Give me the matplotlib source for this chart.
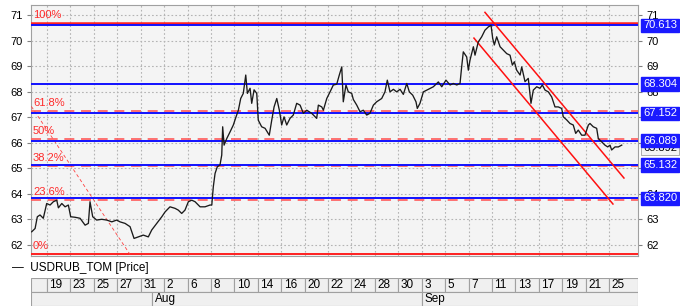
import matplotlib.pyplot as plt
from matplotlib.patches import Rectangle
import matplotlib.transforms as mtransforms

plt.rcParams['font.family'] = ['Liberation Sans', 'DejaVu Sans']

# time in trading days (0 = 19 Jul 2018), USDRUB_TOM price
t = [-1.31, -1.02, -0.83, -0.60, -0.32, -0.03, 0.26, 0.54, 0.83, 0.97, 1.26, 1.54, 1.82,
     2.02, 2.39, 2.82, 3.25, 3.53, 3.67, 3.90, 4.24, 4.67, 5.10, 5.53, 5.95, 6.23, 6.66,
     7.09, 7.43, 7.80, 8.22, 8.65, 8.94, 9.37, 9.80, 10.08, 10.50, 10.93, 11.21, 11.50,
     11.78, 12.07, 12.36, 12.64, 13.07, 13.49, 13.92, 14.07, 14.20, 14.35, 14.54, 14.77,
     14.92, 15.00, 15.12, 15.35, 15.63, 15.91, 16.14, 16.34, 16.54, 16.76, 16.97, 17.11,
     17.34, 17.48, 17.68, 17.91, 18.04, 18.33, 18.62, 18.98, 19.19, 19.39, 19.62, 19.84,
     20.04, 20.24, 20.47, 20.75, 21.03, 21.32, 21.61, 21.89, 22.18, 22.60, 23.03, 23.17,
     23.46, 23.60, 23.89, 24.17, 24.45, 24.74, 24.96, 25.17, 25.30, 25.53, 25.73, 26.02,
     26.16, 26.45, 26.73, 27.01, 27.30, 27.58, 27.87, 28.15, 28.58, 28.86, 29.06, 29.29,
     29.58, 29.86, 30.15, 30.43, 30.72, 30.94, 31.23, 31.51, 31.62, 31.85, 32.14, 32.56,
     32.99, 33.42, 33.71, 34.07, 34.42, 34.70, 34.99, 35.27, 35.41, 35.55, 35.84, 35.98,
     36.12, 36.41, 36.55, 36.83, 37.12, 37.40, 37.69, 37.92, 38.06, 38.20, 38.40, 38.69,
     38.97, 39.26, 39.54, 39.74, 39.91, 40.11, 40.40, 40.54, 40.82, 41.10, 41.33, 41.53,
     41.82, 42.10, 42.30, 42.53, 42.81, 43.10, 43.38, 43.66, 43.95, 44.09, 44.38, 44.66,
     44.94, 45.15, 45.37, 45.66, 45.94, 46.23, 46.37, 46.65, 46.94, 47.08, 47.37, 47.65,
     47.88, 48.08, 48.22, 48.51, 48.79, 49.08]
price = [62.51, 62.64, 63.10, 63.17, 63.04, 63.62, 63.56, 63.69, 63.75, 63.45, 63.62, 63.49, 63.56,
         63.10, 63.08, 63.04, 62.77, 62.84, 63.69, 63.10, 62.97, 63.00, 62.97, 62.90, 62.97, 62.90, 62.84,
         62.71, 62.25, 62.31, 62.38, 62.31, 62.58, 62.84, 63.10, 63.29, 63.49, 63.43, 63.36, 63.23,
         63.36, 63.69, 63.75, 63.69, 63.49, 63.49, 63.56, 63.56, 64.28, 64.80, 65.06, 65.13,
         65.52, 66.63, 65.91, 66.17, 66.43, 66.70, 67.02, 67.28, 67.74, 67.94, 68.66, 67.94,
         68.14, 67.55, 68.08, 67.94, 66.89, 66.63, 66.57, 66.30, 66.89, 67.41, 67.74, 67.28,
         66.70, 67.02, 66.70, 66.96, 67.09, 67.55, 67.48, 67.16, 67.28, 67.16, 66.96, 67.48,
         67.41, 67.28, 67.74, 68.00, 68.27, 68.30, 68.66, 68.98, 67.61, 68.27, 68.00, 67.94,
         67.70, 67.48, 67.22, 67.28, 67.09, 67.16, 67.48, 67.61, 67.74, 68.00, 68.46, 68.00,
         68.10, 68.00, 68.10, 67.90, 68.33, 68.00, 67.87, 67.61, 67.35, 67.55, 68.00, 68.10,
         68.20, 68.39, 68.20, 68.46, 68.27, 68.33, 68.27, 68.33, 68.98, 69.57, 69.37, 68.85,
         69.24, 69.77, 69.44, 69.96, 70.16, 70.42, 70.55, 70.61, 70.10, 69.84, 70.16, 69.77,
         69.64, 69.50, 69.44, 69.05, 69.18, 68.85, 68.66, 68.98, 68.40, 68.53, 67.55, 68.07,
         68.20, 68.14, 68.27, 68.07, 68.00, 67.80, 67.41, 67.41, 67.35, 67.02, 66.90, 66.76,
         66.70, 66.37, 66.50, 66.30, 66.30, 66.70, 66.76, 66.63, 66.57, 66.17, 66.04, 65.91,
         65.84, 65.91, 65.72, 65.84, 65.84, 65.91]
last_price = 65.892

levels_blue = [70.613, 68.304, 67.152, 66.089, 65.132, 63.820]
fib_low, fib_high = 61.62, 70.71
fib_ratios = [0.0, 0.236, 0.382, 0.5, 0.618, 1.0]
fib_names = ['0%', '23.6%', '38.2%', '50%', '61.8%', '100%']
fib_diag_t = [-6.1, 7.09]
fib_diag_p = [70.71, 61.62]

upper_t, upper_p = [37.40, 49.27], [71.12, 64.62]
lower_t, lower_p = [36.46, 48.33], [70.11, 63.60]

day_labels = ['19', '23', '25', '27', '31', '2', '6', '8', '10', '14', '16', '20', '22',
              '24', '28', '30', '3', '5', '7', '11', '13', '17', '19', '21', '25']
month_labels = ['', 'Aug', 'Sep']
month_starts = [None, 9, 32]

x0, x1 = -1.37, 50.47
W, H = 680, 307

fig = plt.figure(figsize=(6.8, 3.07), dpi=100)
fig.patch.set_facecolor('white')
ax = fig.add_axes([31 / W, 1 - 256 / H, 607 / W, 251.3 / H])
ax.set_facecolor('#f4f4f4')
ax.set_xlim(x0, x1)
ax.set_ylim(61.56, 71.42)

ticks = list(range(0, 2 * len(day_labels), 2))
ax.set_xticks(ticks)
ax.set_yticks(range(62, 72))
ax.grid(True, color='#b4b4b4', linestyle=(0, (1.5, 2)), linewidth=0.8)
ax.tick_params(axis='x', bottom=False, labelbottom=False)
ax.tick_params(axis='y', left=True, right=True, labelleft=True, labelright=True,
               length=3, width=0.8, color='#808080', labelsize=8, pad=3)
for s in ax.spines.values():
    s.set_color('#a0a0a0')

# fibonacci levels
for r, name in zip(fib_ratios, fib_names):
    lv = fib_low + (fib_high - fib_low) * r
    if r in (0.0, 1.0):
        ax.axhline(lv, color='#ff2020', lw=1.8 if r == 1.0 else 1.4, zorder=3)
    else:
        ax.axhline(lv, color='#ff5a5a', lw=1.2, dashes=(6, 4), zorder=3)
    ax.text(-1.2, lv + 0.12, name, color='#ff2a2a', fontsize=8, va='bottom', ha='left', zorder=5)
ax.plot(fib_diag_t, fib_diag_p, color='#ff4040', lw=0.6, dashes=(4, 3), zorder=3)

for lv in levels_blue:
    ax.axhline(lv, color='#1010ff', lw=1.4, zorder=4)

ax.plot(upper_t, upper_p, color='#ff1010', lw=1.1, zorder=5)
ax.plot(lower_t, lower_p, color='#ff1010', lw=1.1, zorder=5)

ax.plot(t, price, color='#1a1a1a', lw=0.95, zorder=6)

# right side value boxes
trans = mtransforms.blended_transform_factory(ax.transAxes, ax.transData)
ax.text(1.0082, last_price - 0.09, f'{last_price:.3f}', transform=trans, fontsize=8,
        va='center', ha='left', color='black', clip_on=False, zorder=8,
        bbox=dict(boxstyle='square,pad=0.15', facecolor='#f4f4f4', edgecolor='#a0a0a0', lw=0.6))
for lv in levels_blue:
    ax.text(1.0082, lv, f'{lv:.3f}', transform=trans, fontsize=8, va='center', ha='left',
            color='white', clip_on=False, zorder=9,
            bbox=dict(boxstyle='square,pad=0.15', facecolor='#1a1aff', edgecolor='#1a1aff'))

# legend
fig.text(12 / W, 1 - 268 / H, '\u2014  USDRUB_TOM [Price]', fontsize=8.5, va='center', ha='left')

# date bar
dax = fig.add_axes([31 / W, 1 / H, 607 / W, 28 / H])
dax.set_xlim(x0, x1)
dax.set_ylim(0, 2)
dax.axis('off')
edges = [x0] + ticks + [x1]
for i in range(len(edges) - 1):
    dax.add_patch(Rectangle((edges[i], 1), edges[i + 1] - edges[i], 1, facecolor='#f0f0f0',
                            edgecolor='#a0a0a0', lw=0.8))
for tk, lab in zip(ticks, day_labels):
    dax.text(tk + 0.2, 1.5, lab, fontsize=8.5, va='center', ha='left')
m_edges = [x0] + month_starts[1:] + [x1]
for i, lab in enumerate(month_labels):
    dax.add_patch(Rectangle((m_edges[i], 0), m_edges[i + 1] - m_edges[i], 1, facecolor='#f0f0f0',
                            edgecolor='#a0a0a0', lw=0.8))
    dax.text(m_edges[i] + 0.2, 0.5, lab, fontsize=8.5, va='center', ha='left')

fig.savefig('out.png', dpi=100)
